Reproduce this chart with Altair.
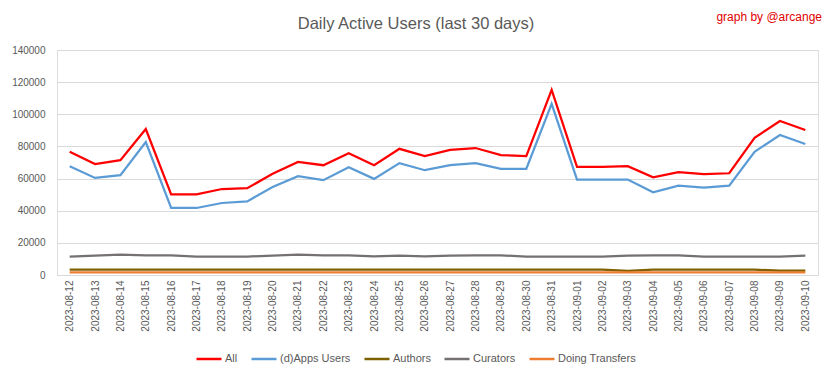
import altair as alt
import pandas as pd

dates = [
    "2023-08-12", "2023-08-13", "2023-08-14", "2023-08-15", "2023-08-16",
    "2023-08-17", "2023-08-18", "2023-08-19", "2023-08-20", "2023-08-21",
    "2023-08-22", "2023-08-23", "2023-08-24", "2023-08-25", "2023-08-26",
    "2023-08-27", "2023-08-28", "2023-08-29", "2023-08-30", "2023-08-31",
    "2023-09-01", "2023-09-02", "2023-09-03", "2023-09-04", "2023-09-05",
    "2023-09-06", "2023-09-07", "2023-09-08", "2023-09-09", "2023-09-10",
]

all_users = [76700, 69000, 71500, 90800, 50200, 50200, 53500, 54000, 63000, 70400,
             68300, 75800, 68300, 78500, 74000, 77800, 79000, 74600, 74000, 115200,
             67300, 67300, 67700, 60800, 64000, 62700, 63300, 85400, 95800, 90200]
apps_users = [67700, 60400, 62100, 82700, 41700, 41700, 44800, 45800, 54800, 61500,
              59000, 67100, 59800, 69600, 65200, 68300, 69600, 66000, 66000, 106500,
              59400, 59400, 59400, 51500, 55600, 54400, 55600, 76700, 87100, 81500]
authors = [3300, 3300, 3300, 3300, 3300, 3300, 3300, 3300, 3300, 3300,
           3300, 3300, 3300, 3300, 3300, 3300, 3300, 3300, 3300, 3300,
           3300, 3300, 2600, 3300, 3300, 3300, 3300, 3300, 2700, 2700]
curators = [11400, 12100, 12700, 12200, 12200, 11500, 11500, 11500, 12000, 12700,
            12200, 12200, 11600, 12100, 11600, 12100, 12200, 12200, 11500, 11500,
            11500, 11500, 12100, 12200, 12200, 11500, 11500, 11500, 11500, 12100]
transfers = [1700] * 30

series_names = ["All", "(d)Apps Users", "Authors", "Curators", "Doing Transfers"]
series_colors = ["#FF0000", "#5B9BD5", "#7F6000", "#767171", "#ED7D31"]
y_ticks = [0, 20000, 40000, 60000, 80000, 100000, 120000, 140000]
title_text = ["Daily Active Users (last 30 days)"]
credit_text = ["graph by @arcange"]

rows = []
for name, vals in zip(series_names, [all_users, apps_users, authors, curators, transfers]):
    for d, v in zip(dates, vals):
        rows.append({"date": d, "value": v, "series": name})
df = pd.DataFrame(rows)

FONT = "Liberation Sans"
GREY = "#595959"

lines = alt.Chart(df).mark_line(strokeWidth=2.25).encode(
    x=alt.X("date:O", sort=dates,
            scale=alt.Scale(type="point", padding=0.5),
            axis=alt.Axis(title=None, labelAngle=-90, labelFontSize=10, labelColor=GREY,
                          labelFont=FONT, ticks=False, domainColor="#D9D9D9",
                          labelPadding=5, grid=False)),
    y=alt.Y("value:Q", scale=alt.Scale(domain=[0, 140000], nice=False),
            axis=alt.Axis(title=None, values=y_ticks, format="d", labelFontSize=10,
                          labelColor=GREY, labelFont=FONT, ticks=False, domain=False,
                          gridColor="#D9D9D9", labelPadding=12)),
    color=alt.Color("series:N", sort=series_names,
                    scale=alt.Scale(domain=series_names, range=series_colors),
                    legend=alt.Legend(title=None, orient="none", direction="horizontal",
                                      legendX=138, legendY=295,
                                      symbolType="stroke", symbolSize=625,
                                      symbolStrokeWidth=2.5, labelFontSize=11,
                                      labelColor=GREY, labelFont=FONT,
                                      columnPadding=8, labelOffset=2)),
    order=alt.Order("series:N"),
)

title = alt.Chart(pd.DataFrame({"t": title_text})).mark_text(
    align="center", baseline="alphabetic", fontSize=16.5, font=FONT, color=GREY
).encode(text="t:N", x=alt.value(359), y=alt.value(-21))

credit = alt.Chart(pd.DataFrame({"t": credit_text})).mark_text(
    align="right", baseline="alphabetic", fontSize=12, font=FONT, color="#E00000"
).encode(text="t:N", x=alt.value(765), y=alt.value(-29))

chart = alt.layer(lines, title, credit).properties(
    width=761, height=225,
    autosize=alt.AutoSizeParams(type="none"),
    padding={"left": 49, "top": 42, "right": 7, "bottom": 96},
).configure_view(stroke=None).configure(background="white")

chart.save("out.html", embed_options={"renderer": "svg", "actions": False})
